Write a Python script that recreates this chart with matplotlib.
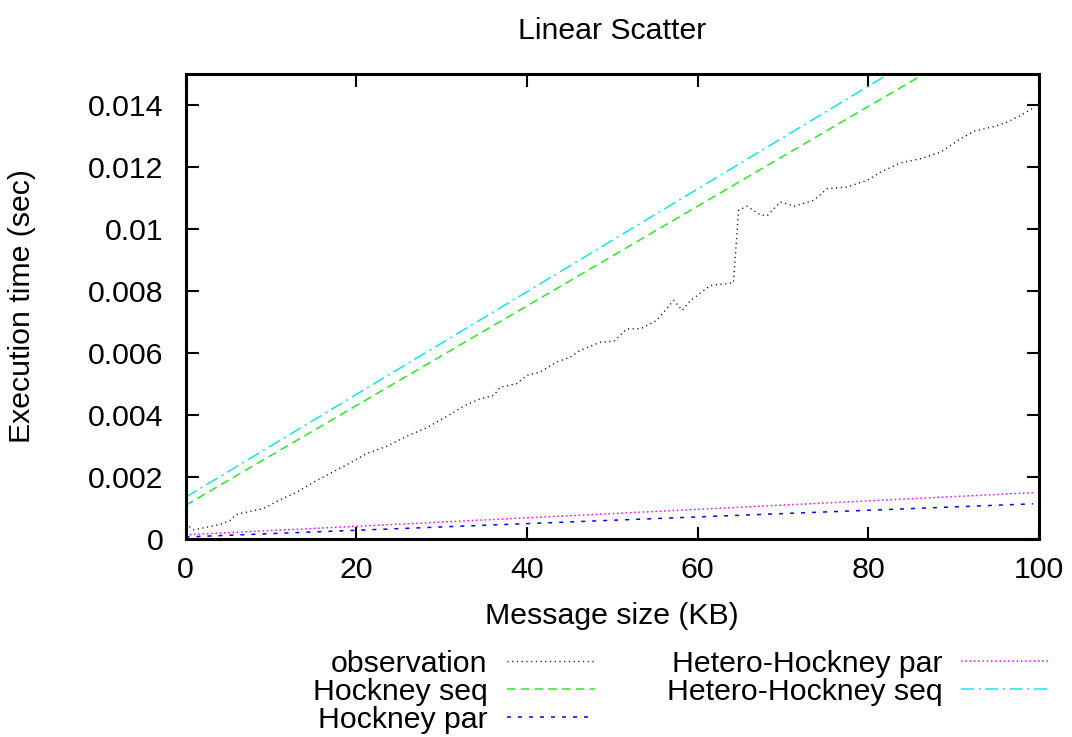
import matplotlib
matplotlib.use("Agg")
import matplotlib.pyplot as plt
from matplotlib.ticker import FuncFormatter

plt.rcParams['font.family'] = ['Liberation Sans', 'DejaVu Sans']
plt.rcParams['font.size'] = 21.8

# observed execution time of linear scatter
obs_kb = [0, 1, 4, 5.2, 5.9, 7.9, 9.1, 11.0, 13.1, 14.9, 16.9, 18.9,
          21.2, 23.5, 25.9, 28.2, 30.6, 32.5, 34.5, 36.1, 36.9, 38.8, 40.0, 41.5,
          43.5, 45.1, 46.2, 48.6, 50.2, 51.7, 53.3, 55.2, 57.2, 58.2, 59.2, 61.5,
          64.2, 64.8, 65.8, 67.4, 68.2, 69.7, 71.3, 73.6, 75.2, 77.5, 79.9, 81.5,
          83.8, 86.2, 88.5, 90.8, 92.4, 94.8, 96.3, 97.9, 99.3]
obs_sec = [0.00047, 0.00028, 0.00045, 0.00058, 0.00077, 0.00090,
           0.00096, 0.00124, 0.00150, 0.00180, 0.00210, 0.00238,
           0.00274, 0.00297, 0.00330, 0.00357, 0.00394, 0.00426,
           0.00451, 0.00462, 0.00489, 0.00500, 0.00527, 0.00537,
           0.00570, 0.00586, 0.00607, 0.00634, 0.00637, 0.00677,
           0.00677, 0.00704, 0.00769, 0.00737, 0.00769, 0.00817,
           0.00826, 0.01060, 0.01073, 0.01044, 0.01044, 0.01087,
           0.01073, 0.01092, 0.01130, 0.01135, 0.01157, 0.01184,
           0.01213, 0.01227, 0.01248, 0.01291, 0.01315, 0.01331,
           0.01345, 0.01367, 0.01390]

# model predictions (straight lines, end points)
model_kb = [0, 99.3]
hockney_seq = [0.00107, 0.01706]
hockney_par = [0.00005, 0.00112]
hetero_par = [0.00012, 0.00148]
hetero_seq = [0.00133, 0.01781]

xticks = [0, 20, 40, 60, 80, 100]
yticks = [0, 0.002, 0.004, 0.006, 0.008, 0.01, 0.012, 0.014]

fig = plt.figure(figsize=(10.72, 7.37), dpi=100)
ax = fig.add_axes([185.5/1072, 1 - 538.5/737, (1039 - 185.5)/1072, (538.5 - 74)/737])

ax.plot(obs_kb, obs_sec, color='black', lw=1.0, dashes=(0.8, 2.6), label='observation')
ax.plot(model_kb, hockney_seq, color='#22ee22', lw=1.1, dashes=(5.6, 3.4), label='Hockney seq')
ax.plot(model_kb, hockney_par, color='#0000ff', lw=1.1, dashes=(2.6, 4.6), label='Hockney par')
ax.plot(model_kb, hetero_par, color='#ff00ff', lw=1.1, dashes=(1.0, 1.8), label='Hetero-Hockney par')
ax.plot(model_kb, hetero_seq, color='#11e8e8', lw=1.1, dashes=(8.5, 3.0, 1.4, 3.0), label='Hetero-Hockney seq')

ax.set_xlim(0, 100)
ax.set_ylim(0, 0.015)
ax.set_xticks(xticks)
ax.set_yticks(yticks)
ax.yaxis.set_major_formatter(FuncFormatter(lambda v, p: '%g' % v))
ax.tick_params(direction='in', length=9, width=1.5, top=True, right=True)
ax.tick_params(axis='x', pad=12.5)
ax.tick_params(axis='y', pad=16)
for s in ax.spines.values():
    s.set_linewidth(2.2)

ax.set_title('Linear Scatter', fontsize=21.8, pad=25)
ax.set_xlabel('Message size (KB)', labelpad=13)
ax.set_ylabel('Execution time (sec)', labelpad=37)

ax.legend(loc='upper left', bbox_to_anchor=(313/1072, 1 - 650/737),
          bbox_transform=fig.transFigure, ncol=2, frameon=False,
          markerfirst=False, borderpad=0, borderaxespad=0,
          handlelength=2.9, handletextpad=0.63, columnspacing=2.38,
          labelspacing=0.0)

plt.savefig('out.png', dpi=100)
